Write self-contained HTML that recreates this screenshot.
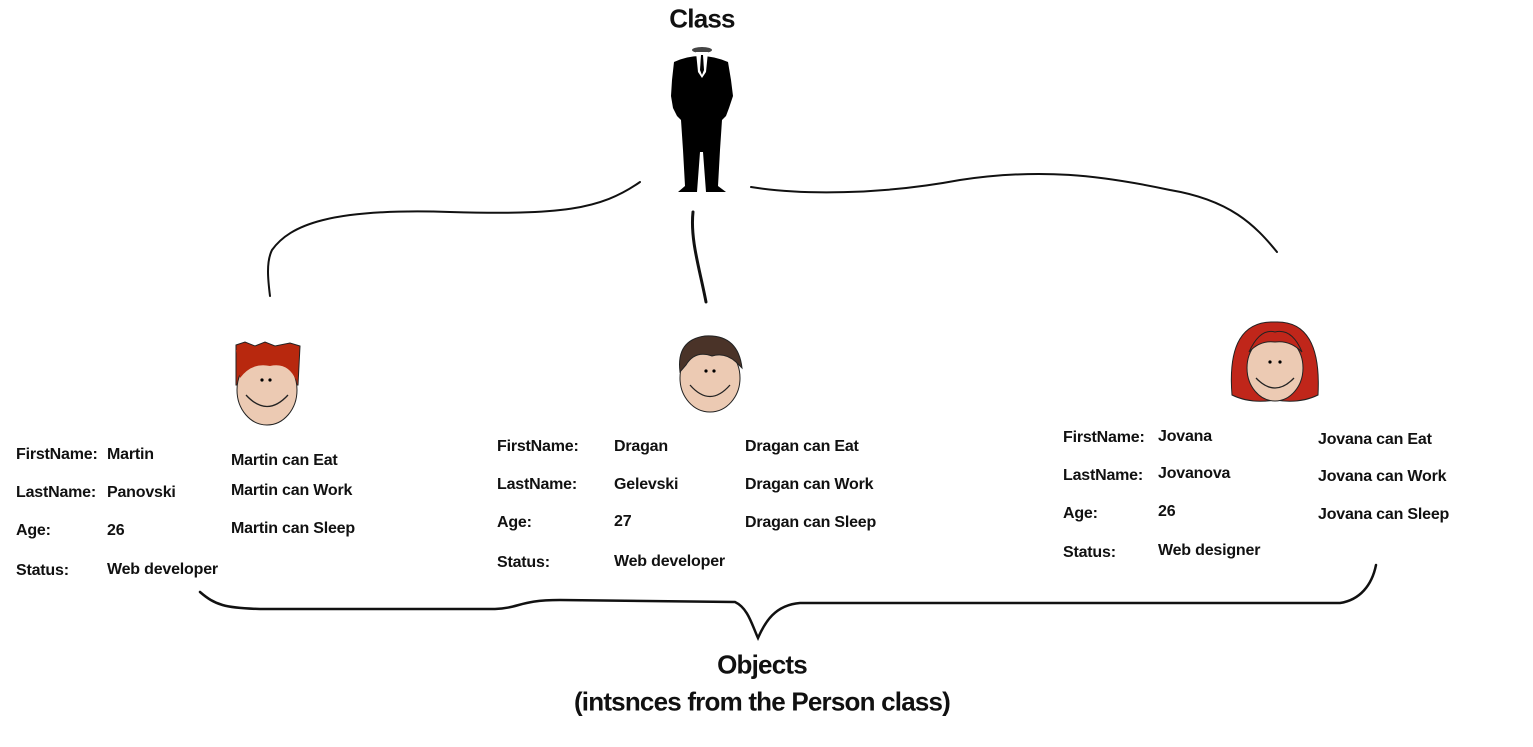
<!DOCTYPE html>
<html><head><style>
body{margin:0;background:#fff;width:1533px;height:747px;overflow:hidden;position:relative;font-family:"Liberation Sans",sans-serif;font-weight:bold;color:#111}
.t{position:absolute;font-size:16px;white-space:nowrap;transform:translateY(-50%);letter-spacing:-0.2px}
.h{position:absolute;font-size:26px;white-space:nowrap;transform:translate(-50%,-50%);letter-spacing:-0.8px}
</style></head><body>
<svg width="1533" height="747" style="position:absolute;left:0;top:0">
<g fill="none" stroke="#111" stroke-linecap="round">
<path d="M640 182 C600 210,560 215,450 212 C330 208,290 225,272 250 C266 262,268 280,270 296" stroke-width="2"/>
<path d="M693 212 C690 240,700 270,706 302" stroke-width="3"/>
<path d="M751 187 C800 195,880 195,960 180 C1040 168,1100 175,1170 190 C1230 200,1255 225,1277 252" stroke-width="2"/>
<path d="M200 592 C215 605,225 608,260 609 L495 609 C520 608,520 600,560 600 L735 602 C748 608,752 625,758 638 C765 622,775 605,800 603 L1340 603 C1360 600,1372 585,1376 565" stroke-width="2.5"/>
</g>
<!-- suit -->
<g fill="#000">
<ellipse cx="702" cy="50" rx="10" ry="3" fill="#444"/>
<path d="M674 62 Q700 50 728 62 L731 80 L733 96 L729 108 L726 116 L722 120 L720 150 L718 186 L726 192 L706 192 L703 152 L700 152 L697 192 L678 192 L685 186 L683 150 L681 120 L677 116 L673 108 L671 96 L672 80 Z"/>
<path d="M696 52 L708 52 L706 72 L702 78 L698 72 Z" fill="#fff"/>
<path d="M701 55 L703 55 L704 70 L702 75 L700 70 Z"/>
</g>
<!-- Martin -->
<g stroke="#222" stroke-width="1">
<path d="M236 345 L245 342 L255 346 L265 342 L275 346 L290 343 L300 346 L298 385 L236 385 Z" fill="#b8280e"/>
<ellipse cx="267" cy="390" rx="30" ry="35" fill="#eccab3"/>
<path d="M240 378 Q252 362 270 366 Q288 362 296 380 L298 350 L236 350 Z" fill="#b8280e" stroke="none"/>
</g>
<circle cx="262" cy="380" r="1.6"/><circle cx="270" cy="380" r="1.6"/>
<path d="M246 395 Q267 418 288 395" fill="none" stroke="#222" stroke-width="1.3"/>
<!-- Dragan -->
<g stroke="#222" stroke-width="1">
<ellipse cx="710" cy="378" rx="30" ry="34" fill="#eccab3"/>
<path d="M680 372 Q676 340 705 336 Q738 334 742 368 L736 362 Q725 352 712 356 Q695 350 686 365 Z" fill="#4a3328"/>
</g>
<circle cx="706" cy="371" r="1.6"/><circle cx="714" cy="371" r="1.6"/>
<path d="M690 385 Q710 408 730 385" fill="none" stroke="#222" stroke-width="1.3"/>
<!-- Jovana -->
<g stroke="#222" stroke-width="1">
<path d="M1232 395 Q1226 320 1275 322 Q1322 320 1318 395 Q1300 404 1275 400 Q1250 404 1232 395 Z" fill="#c0261a"/>
<ellipse cx="1275" cy="368" rx="28" ry="33" fill="#eccab3"/>
<path d="M1249 352 Q1260 328 1275 332 Q1292 328 1302 352 Q1290 340 1275 342 Q1260 340 1249 352 Z" fill="#c0261a"/>
</g>
<circle cx="1270" cy="362" r="1.6"/><circle cx="1280" cy="362" r="1.6"/>
<path d="M1256 378 Q1275 398 1294 378" fill="none" stroke="#222" stroke-width="1.3"/>
</svg>

<div class="h" style="left:702px;top:19px">Class</div>
<div class="h" style="left:762px;top:665px">Objects</div>
<div class="h" style="left:762px;top:702px">(intsnces from the Person class)</div>

<div class="t" style="left:16px;top:455px">FirstName:</div><div class="t" style="left:107px;top:455px">Martin</div>
<div class="t" style="left:16px;top:493px">LastName:</div><div class="t" style="left:107px;top:493px">Panovski</div>
<div class="t" style="left:16px;top:531px">Age:</div><div class="t" style="left:107px;top:531px">26</div>
<div class="t" style="left:16px;top:571px">Status:</div><div class="t" style="left:107px;top:570px">Web developer</div>
<div class="t" style="left:231px;top:461px">Martin can Eat</div>
<div class="t" style="left:231px;top:491px">Martin can Work</div>
<div class="t" style="left:231px;top:529px">Martin can Sleep</div>

<div class="t" style="left:497px;top:447px">FirstName:</div><div class="t" style="left:614px;top:447px">Dragan</div>
<div class="t" style="left:497px;top:485px">LastName:</div><div class="t" style="left:614px;top:485px">Gelevski</div>
<div class="t" style="left:497px;top:523px">Age:</div><div class="t" style="left:614px;top:522px">27</div>
<div class="t" style="left:497px;top:563px">Status:</div><div class="t" style="left:614px;top:562px">Web developer</div>
<div class="t" style="left:745px;top:447px">Dragan can Eat</div>
<div class="t" style="left:745px;top:485px">Dragan can Work</div>
<div class="t" style="left:745px;top:523px">Dragan can Sleep</div>

<div class="t" style="left:1063px;top:438px">FirstName:</div><div class="t" style="left:1158px;top:437px">Jovana</div>
<div class="t" style="left:1063px;top:476px">LastName:</div><div class="t" style="left:1158px;top:474px">Jovanova</div>
<div class="t" style="left:1063px;top:514px">Age:</div><div class="t" style="left:1158px;top:512px">26</div>
<div class="t" style="left:1063px;top:553px">Status:</div><div class="t" style="left:1158px;top:551px">Web designer</div>
<div class="t" style="left:1318px;top:440px">Jovana can Eat</div>
<div class="t" style="left:1318px;top:477px">Jovana can Work</div>
<div class="t" style="left:1318px;top:515px">Jovana can Sleep</div>
</body></html>
